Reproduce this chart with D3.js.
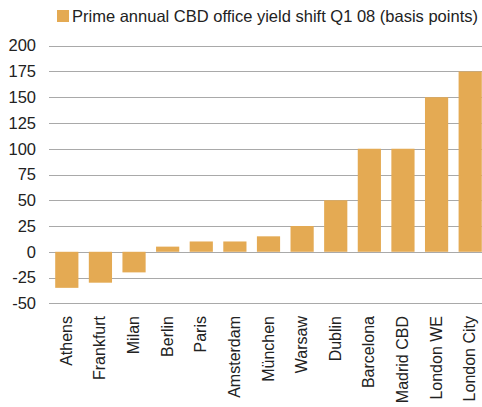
<!DOCTYPE html>
<html>
<head>
<meta charset="utf-8">
<script src="https://cdn.jsdelivr.net/npm/d3@7"></script>
<style>
  body { margin: 0; background: #fff; }
  svg { display: block; font-family: "Liberation Sans", Arial, sans-serif; }
</style>
</head>
<body>
<div id="chart"></div>
<script>
// data
const cities = ["Athens", "Frankfurt", "Milan", "Berlin", "Paris", "Amsterdam", "München",
  "Warsaw", "Dublin", "Barcelona", "Madrid CBD", "London WE", "London City"];
const yieldShift = [-35, -30, -20, 5, 10, 10, 15, 25, 50, 100, 100, 150, 175];
const yTicks = [-50, -25, 0, 25, 50, 75, 100, 125, 150, 175, 200];
const seriesName = "Prime annual CBD office yield shift Q1 08 (basis points)";

const width = 482, height = 407;
const barColor = "#e4aa53";

const svg = d3.select("#chart").append("svg")
  .attr("width", width)
  .attr("height", height);

const x = d3.scaleBand().domain(cities).range([50, 487]).paddingInner(0.31).paddingOuter(0.155);
const y = d3.scaleLinear().domain([-50, 200]).range([303.3, 45.7]);

// gridlines
svg.append("g")
  .selectAll("line")
  .data(yTicks)
  .join("line")
  .attr("x1", 49).attr("x2", width)
  .attr("y1", d => Math.round(y(d)) + 0.5).attr("y2", d => Math.round(y(d)) + 0.5)
  .attr("stroke", "#a9a9a9").attr("stroke-width", 1);

// y tick labels
svg.append("g")
  .selectAll("text")
  .data(yTicks)
  .join("text")
  .attr("x", 36)
  .attr("y", d => y(d))
  .attr("dy", "0.35em")
  .attr("text-anchor", "end")
  .attr("font-size", 16.5)
  .attr("fill", "#222")
  .text(d => d);

// bars
svg.append("g")
  .selectAll("rect")
  .data(cities)
  .join("rect")
  .attr("x", d => x(d))
  .attr("width", x.bandwidth())
  .attr("y", (d, i) => y(Math.max(0, yieldShift[i])))
  .attr("height", (d, i) => Math.abs(y(yieldShift[i]) - y(0)))
  .attr("fill", barColor);

// x labels, rotated
svg.append("g")
  .selectAll("text")
  .data(cities)
  .join("text")
  .attr("transform", d => `translate(${x(d) + x.bandwidth() / 2 + 5},316) rotate(-90)`)
  .attr("text-anchor", "end")
  .attr("font-size", 16)
  .attr("fill", "#222")
  .text(d => d);

// legend
const lg = svg.append("g").attr("transform", "translate(57,10)");
lg.append("rect").attr("width", 12).attr("height", 12).attr("fill", barColor);
lg.append("text")
  .attr("x", 15).attr("y", 12)
  .attr("font-size", 16.5)
  .attr("fill", "#222")
  .text(seriesName);
</script>
</body>
</html>
